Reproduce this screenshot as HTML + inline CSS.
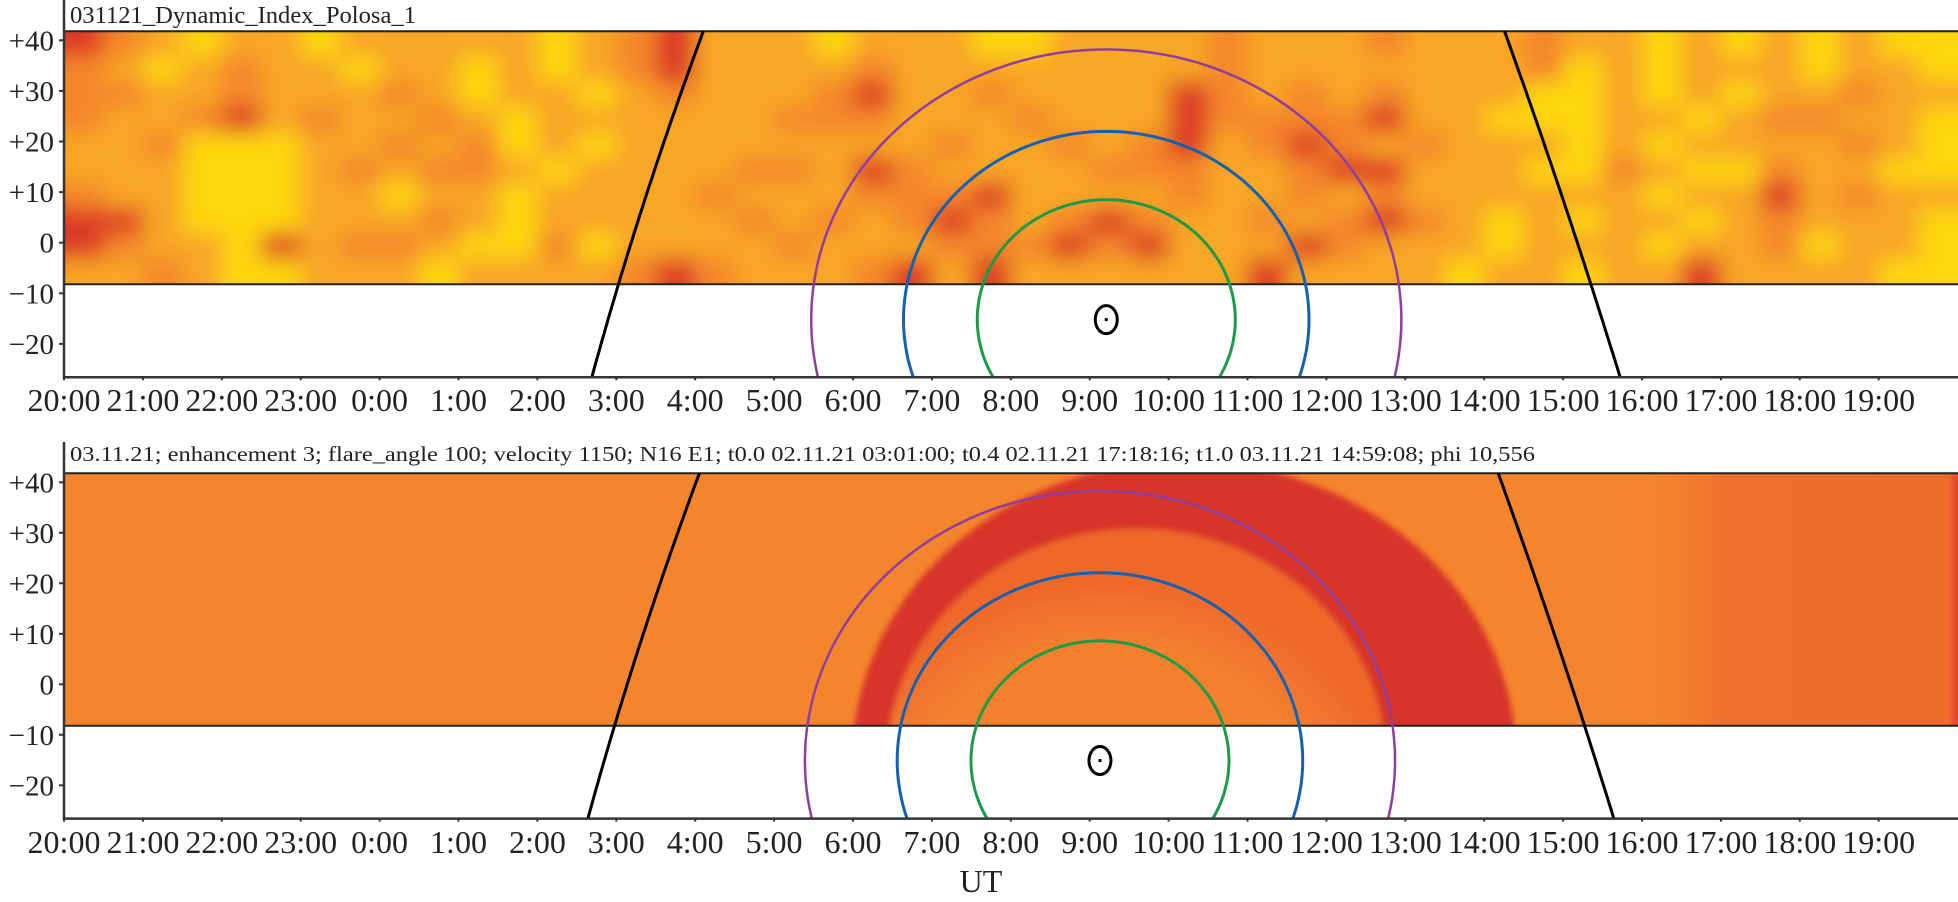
<!DOCTYPE html>
<html><head><meta charset="utf-8"><style>
html,body{margin:0;padding:0;background:#fff;overflow:hidden;width:1958px;height:902px;}
svg{display:block;font-family:"Liberation Serif",serif;}
</style></head><body>
<svg id="chart" width="1958" height="902" viewBox="0 0 1958 902" xmlns="http://www.w3.org/2000/svg">
<defs>
<filter id="blurA" filterUnits="userSpaceOnUse" x="0" y="0" width="1958" height="340"><feGaussianBlur stdDeviation="11"/></filter>
<filter id="blurB" filterUnits="userSpaceOnUse" x="0" y="440" width="1958" height="320"><feGaussianBlur stdDeviation="3"/></filter>
<clipPath id="clipHeatTop"><rect x="64" y="31" width="1894" height="253"/></clipPath>
<clipPath id="clipHeatBot"><rect x="64" y="473" width="1894" height="253"/></clipPath>
<clipPath id="clipPlotTop"><rect x="64" y="31" width="1894" height="346"/></clipPath>
<clipPath id="clipPlotBot"><rect x="64" y="473" width="1894" height="346"/></clipPath>
<linearGradient id="rightFade" x1="0" x2="1" y1="0" y2="0">
<stop offset="0" stop-color="#f5852d" stop-opacity="0"/>
<stop offset="0.3" stop-color="#f0702c" stop-opacity="1"/>
<stop offset="0.97" stop-color="#ef6b2c"/>
<stop offset="1" stop-color="#e2452a"/>
</linearGradient>
<radialGradient id="innerGrad" cx="0.45" cy="0.7" r="0.6">
<stop offset="0" stop-color="#f5862d"/>
<stop offset="0.75" stop-color="#f4802e"/>
<stop offset="1" stop-color="#ee672c"/>
</radialGradient>
</defs>
<g id="layer"></g>
</svg>
<script>
// ---------- data ----------
const hourLabels = ["20:00","21:00","22:00","23:00","0:00","1:00","2:00","3:00","4:00","5:00","6:00","7:00","8:00","9:00","10:00","11:00","12:00","13:00","14:00","15:00","16:00","17:00","18:00","19:00"];
const latTicks = [40,30,20,10,0,-10,-20];
const latTickLabels = ["+40","+30","+20","+10","0","\u221210","\u221220"];
// top heatmap: 48 half-hour columns x 10 latitude bands (+42..-8), level 0=yellow .. 3=red
const heatRows = [
"3 2 1 0 1 1 0 1 1 1 1 1 0 1 2 3 1 1 1 0 1 1 1 0 0 1 1 1 1 2 1 1 1 2 1 1 1 2 1 1 0 1 0 1 0 1 0 0",
"2 1 0 1 2 1 1 0 1 1 0 1 0 1 2 3 1 1 1 1 2 1 1 1 1 1 1 1 1 2 1 1 1 1 1 1 1 2 0 1 0 1 1 1 0 1 1 0",
"2 2 1 1 2 1 1 1 2 1 0 1 1 0 1 2 1 1 1 2 3 1 1 2 1 1 1 1 3 2 1 2 1 2 1 1 1 0 0 1 0 1 0 1 1 2 1 1",
"2 1 1 2 3 1 2 1 1 2 1 0 1 1 1 1 1 1 2 2 2 1 1 1 2 1 1 1 3 2 2 2 2 3 1 1 0 0 0 1 1 0 1 2 2 1 1 0",
"1 1 2 0 0 0 1 1 2 1 2 0 1 0 1 1 1 1 1 1 1 1 2 1 1 2 1 2 3 1 2 3 2 1 2 1 1 1 0 1 0 1 1 1 1 2 1 0",
"1 1 1 0 0 0 1 2 1 2 2 1 0 1 1 1 1 2 2 1 3 2 1 1 1 1 2 2 2 1 1 2 3 3 1 1 1 0 0 2 1 0 0 2 1 1 0 0",
"2 1 1 0 0 0 1 1 0 1 1 0 1 1 1 1 2 1 1 1 2 2 2 3 1 1 1 1 2 1 1 2 1 2 1 1 1 1 1 1 0 1 1 3 1 2 1 1",
"3 3 1 0 0 0 1 1 1 2 1 0 1 1 1 1 1 2 1 2 1 2 3 2 1 2 3 2 1 1 2 1 2 3 2 1 0 1 0 1 1 0 1 2 1 1 1 0",
"3 2 1 1 0 3 1 2 2 1 0 0 2 0 1 1 1 1 2 1 1 1 2 2 2 3 2 3 1 1 1 3 2 1 1 1 0 1 1 1 0 1 1 2 0 1 1 0",
"1 1 2 1 0 0 1 1 1 0 1 1 1 1 2 3 2 1 1 1 2 3 1 3 1 1 1 1 1 1 3 1 1 1 1 0 1 1 0 1 1 3 1 1 1 1 0 0"
];
const levelColors = ["#fdd60f","#f8a626","#f4872c","#dc3b27"];
// limb curves (hours since 20:00 at given latitudes)
const limbLats = [41.8, 18.3, -8.2, -26.6];
const limbLeftTop = [8.11, 7.55, 7.05, 6.68];
const limbRightTop = [18.26, 18.78, 19.36, 19.72];
const limbLeftBot = [8.06, 7.50, 7.00, 6.63];
const limbRightBot = [18.18, 18.70, 19.28, 19.64];
// disk centre (hours, latitude) and contour radii (hours, degrees)
const centreTop = [13.21, -15.2];
const centreBot = [13.13, -15.1];
const contourRx = [1.635, 2.57, 3.74];
const contourRy = [23.7, 37.2, 53.4];
const contourColors = ["#1e9a48","#1560b0","#8e3ea0"];
const contourNames = ["green-contour","blue-contour","purple-contour"];
// model enhancement ring (bottom panel): [centreHour, centreLat, rxHours, ryDeg]
const ringOuter = [14.20, -15.1, 4.21, 59.3];
const ringInner = [13.59, -15.1, 3.16, 45.9];

// ---------- axes ----------
const X0 = 64, PXH = 78.9;
const xs = h => X0 + h * PXH;
const panels = [
  {name:"top", y0:242.7, k:5.06, axisTop:0, title:"031121_Dynamic_Index_Polosa_1", titleY:23, titleSize:24, titleLen:346,
   limbL:limbLeftTop, limbR:limbRightTop, centre:centreTop, labelY:411},
  {name:"bottom", y0:684.3, k:5.05, axisTop:442, title:"03.11.21; enhancement 3; flare_angle 100; velocity 1150; N16 E1; t0.0 02.11.21 03:01:00; t0.4 02.11.21 17:18:16; t1.0 03.11.21 14:59:08; phi 10,556", titleY:461, titleSize:21, titleLen:1465,
   limbL:limbLeftBot, limbR:limbRightBot, centre:centreBot, labelY:853}
];
const NS = "http://www.w3.org/2000/svg";
const layer = document.getElementById("layer");
function mk(tag, attrs, parent){
  const e = document.createElementNS(NS, tag);
  for (const k in attrs) e.setAttribute(k, attrs[k]);
  (parent||layer).appendChild(e);
  return e;
}
function quadFit(lats, hs){
  let S=[[0,0,0],[0,0,0],[0,0,0]], b=[0,0,0];
  lats.forEach((x,i)=>{const v=[1,x,x*x];for(let r=0;r<3;r++){b[r]+=v[r]*hs[i];for(let c=0;c<3;c++)S[r][c]+=v[r]*v[c];}});
  for(let i=0;i<3;i++){for(let j=i+1;j<3;j++){const f=S[j][i]/S[i][i];for(let c=i;c<3;c++)S[j][c]-=f*S[i][c];b[j]-=f*b[i];}}
  const x=[0,0,0];
  for(let i=2;i>=0;i--){let s=b[i];for(let c=i+1;c<3;c++)s-=S[i][c]*x[c];x[i]=s/S[i][i];}
  return lat => x[0]+x[1]*lat+x[2]*lat*lat;
}
function ellipsePath(ys, c, rx, ry){
  let d = "";
  for (let i=0;i<=180;i++){
    const a = i/180*2*Math.PI;
    d += (i?"L":"M") + xs(c[0]+rx*Math.cos(a)).toFixed(1) + "," + ys(c[1]+ry*Math.sin(a)).toFixed(1);
  }
  return d+"Z";
}

panels.forEach((p, pi) => {
  const ys = lat => p.y0 - lat * p.k;
  const heatTop = ys(41.8), heatBot = ys(-8.2), axisBot = ys(-26.6);
  const g = mk("g", {});
  
  

  const hg = mk("g", {"clip-path": pi===0 ? "url(#clipHeatTop)" : "url(#clipHeatBot)"}, g);
  
  
  if (pi === 0){
    mk("rect", {x:64, y:heatTop, width:1894, height:heatBot-heatTop, fill:"#f59a2a"}, hg);
    const bg = mk("g", {filter:"url(#blurA)"}, hg);
    const rows = heatRows.map(r => r.trim().split(/\s+/).map(Number));
    const nR = rows.length, nC = rows[0].length;
    const latStep = 50 / nR, hStep = 24 / nC;
    rows.forEach((row, ri) => row.forEach((v, ci) => {
      let x1 = xs(ci*hStep), x2 = xs((ci+1)*hStep);
      let y1 = ys(41.8 - ri*latStep), y2 = ys(41.8 - (ri+1)*latStep);
      if (ci===0) x1 -= 30; if (ci===nC-1) x2 += 30;
      if (ri===0) y1 -= 30; if (ri===nR-1) y2 += 30;
      const r = mk("rect", {x:x1.toFixed(1), y:y1.toFixed(1), width:(x2-x1+0.5).toFixed(1), height:(y2-y1+0.5).toFixed(1), fill:levelColors[v]}, bg);
      
      
    }));
  } else {
    mk("rect", {x:64, y:heatTop, width:1894, height:heatBot-heatTop, fill:"#f5852d"}, hg);
    const rf = mk("rect", {x:xs(19.8), y:heatTop, width:1958-xs(19.8), height:heatBot-heatTop, fill:"url(#rightFade)"}, hg);
    
    
    const rg = mk("g", {filter:"url(#blurB)"}, hg);
    const outer = mk("path", {d:ellipsePath(ys, ringOuter, ringOuter[2], ringOuter[3]), fill:"#d8362a"}, rg);
    
    
    const inner = mk("path", {d:ellipsePath(ys, ringInner, ringInner[2], ringInner[3]), fill:"url(#innerGrad)"}, rg);
    
    
  }
  mk("line", {x1:64, x2:1958, y1:heatTop, y2:heatTop, stroke:"#222", "stroke-width":2}, g);
  mk("line", {x1:64, x2:1958, y1:heatBot, y2:heatBot, stroke:"#222", "stroke-width":2}, g);

  const cg = mk("g", {"clip-path": pi===0 ? "url(#clipPlotTop)" : "url(#clipPlotBot)", fill:"none"}, g);
  [p.limbL, p.limbR].forEach((arr, li) => {
    const f = quadFit(limbLats, arr);
    let d = "";
    for (let lat = 45; lat >= -28; lat -= 1) d += (d?"L":"M") + xs(f(lat)).toFixed(1) + "," + ys(lat).toFixed(1);
    const e = mk("path", {d:d, stroke:"#000", "stroke-width":3}, cg);
    
    
  });
  contourRx.forEach((rx, i) => {
    const e = mk("path", {d:ellipsePath(ys, p.centre, rx, contourRy[i]), stroke:contourColors[i], "stroke-width":i===2?2.5:3}, cg);
    
    
  });
  const sx = xs(p.centre[0]), sy = ys(p.centre[1]);
  const sun = mk("g", {}, g);
  
  
  mk("ellipse", {cx:sx, cy:sy, rx:11, ry:14, fill:"none", stroke:"#000", "stroke-width":3}, sun);
  mk("rect", {x:sx-1.5, y:sy-1.5, width:3, height:3, fill:"#000"}, sun);

  const ax = mk("g", {stroke:"#333", "stroke-width":2.5}, g);
  
  
  mk("line", {x1:64, x2:64, y1:p.axisTop, y2:axisBot+1}, ax);
  mk("line", {x1:63, x2:1958, y1:axisBot, y2:axisBot}, ax);

  const t = mk("text", {x:70, y:p.titleY, "font-size":p.titleSize, fill:"#222", textLength:p.titleLen, lengthAdjust:"spacingAndGlyphs"}, g);
  t.textContent = p.title;
  
  

  latTicks.forEach((lat, i) => {
    const y = ys(lat);
    mk("line", {x1:59, x2:64, y1:y, y2:y, stroke:"#333", "stroke-width":2}, g);
    const tl = mk("text", {x:54, y:y+10, "font-size":29, "text-anchor":"end", fill:"#222"}, g);
    tl.textContent = latTickLabels[i];
    
    
  });
  hourLabels.forEach((lab, i) => {
    const x = xs(i);
    mk("line", {x1:x, x2:x, y1:axisBot, y2:axisBot+3, stroke:"#333", "stroke-width":2}, g);
    const tl = mk("text", {x:x, y:p.labelY, "font-size":32, "text-anchor":"middle", fill:"#222"}, g);
    tl.textContent = lab;
    
    
  });
});
const ut = mk("text", {x:981, y:892, "font-size":32, "text-anchor":"middle", fill:"#222"});
ut.textContent = "UT";


</script>
</body></html>
